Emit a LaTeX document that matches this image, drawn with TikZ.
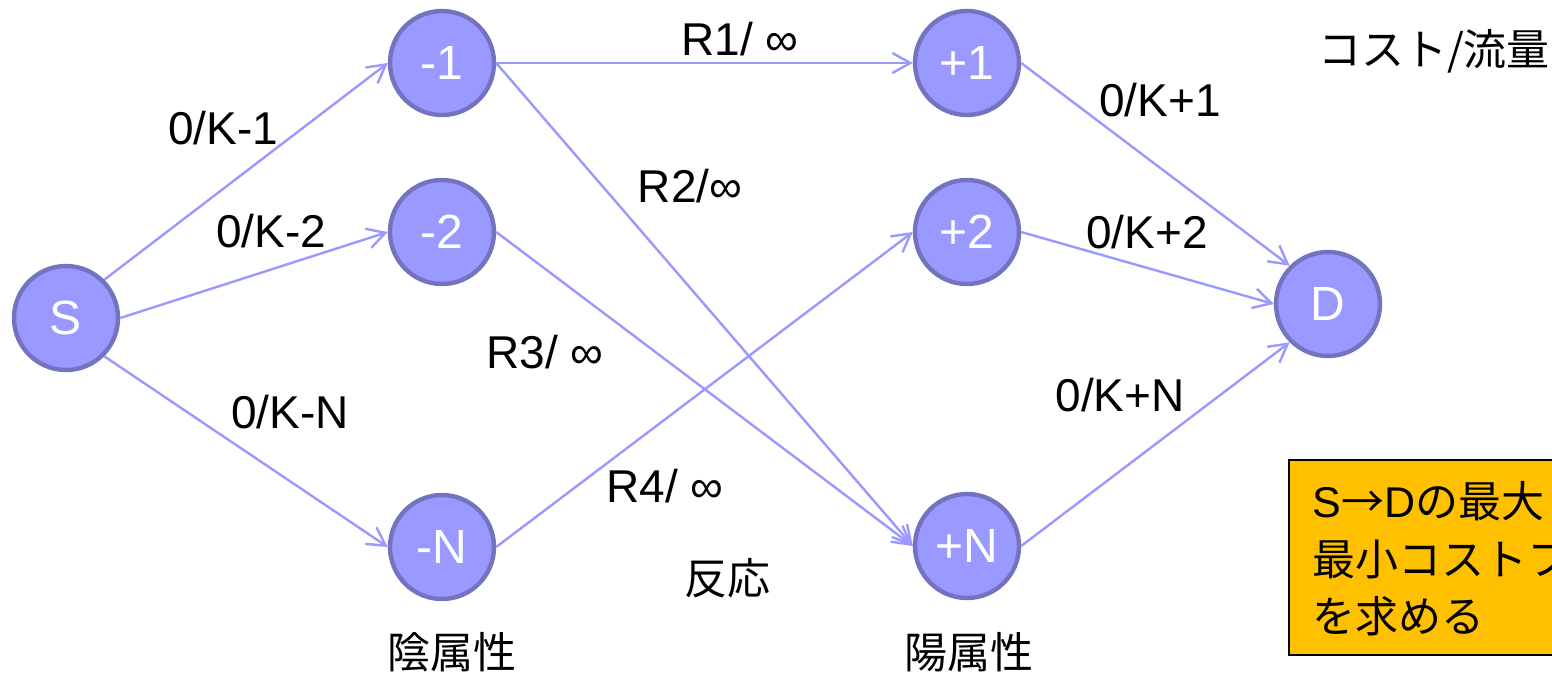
\documentclass[tikz,border=0pt]{standalone}
\usepackage{fontspec}
\setmainfont{Liberation Sans}
\newfontfamily\jp{Noto Sans CJK JP}
\usetikzlibrary{arrows.meta}
\definecolor{nodefill}{HTML}{9999FF}
\definecolor{nodeline}{HTML}{7373BF}
\definecolor{boxfill}{HTML}{FFC000}

\begin{document}
\begin{tikzpicture}[x=0.5pt,y=-0.5pt]

                \tikzset{vertex/.style = {shape=circle,draw=nodeline,fill=nodefill,line width=2.2pt,minimum size=52pt,inner sep=0pt,text=white,font=\fontsize{24}{28}\selectfont}}
                \tikzset{edge/.style = {-{Straight Barb[length=9pt,width=10pt]},draw=nodefill,line width=1.2pt}}
                \tikzset{lbl/.style = {inner sep=0pt,font=\fontsize{23}{28}\selectfont}}
                \tikzset{jlbl/.style = {inner sep=0pt,font=\fontsize{21.5}{27}\selectfont\jp}}
                \clip (0,0) rectangle (1552,675);
                % vertices
                \node[vertex] (S) at (66, 318) {S};
                \node[vertex] (m1) at (442, 63) {-1};
                \node[vertex] (m2) at (442, 232) {-2};
                \node[vertex] (mN) at (442, 547) {-N};
                \node[vertex] (p1) at (967, 63) {+1};
                \node[vertex] (p2) at (967, 232) {+2};
                \node[vertex] (pN) at (967, 546) {+N};
                \node[vertex] (D) at (1328, 304) {D};
                % edges
                \draw[edge] (S.north east) -- (m1.west);
                \draw[edge] (S.east) -- (m2.west);
                \draw[edge] (S.south east) -- (mN.west);
                \draw[edge] (m1.east) -- (p1.west);
                \draw[edge] (m1.east) -- (pN.west);
                \draw[edge] (m2.east) -- (pN.west);
                \draw[edge] (mN.east) -- (p2.west);
                \draw[edge] (p1.east) -- (D.north west);
                \draw[edge] (p2.east) -- (D.west);
                \draw[edge] (pN.east) -- (D.south west);
                % labels
                \node[lbl] (lm1) at (223, 128) {0/K-1};
                \node[lbl] (lm2) at (271, 231) {0/K-2};
                \node[lbl] (lmN) at (290, 412) {0/K-N};
                \node[lbl] (r1) at (740, 39) {R1/ ∞};
                \node[lbl] (r2) at (690, 186) {R2/∞};
                \node[lbl] (r3) at (545, 352) {R3/ ∞};
                \node[lbl] (r4) at (665, 486) {R4/ ∞};
                \node[lbl] (lp1) at (1160, 100) {0/K+1};
                \node[lbl] (lp2) at (1147, 232) {0/K+2};
                \node[lbl] (lpN) at (1120, 395) {0/K+N};
                \node[jlbl] (react) at (727, 578) {反応};
                \node[jlbl] (neg) at (452, 652) {陰属性};
                \node[jlbl] (pos) at (969, 652) {陽属性};
                \node[jlbl] (cost) at (1434, 51) {コスト/流量};
                % goal box
                \draw[fill=boxfill,line width=1.2pt] (1289, 460) rectangle (1620, 655);
                \node[jlbl,anchor=base west] (goal1) at (1312, 517) {{\rmfamily S}→{\rmfamily D}の最大};
                \node[jlbl,anchor=base west] (goal2) at (1312, 575) {最小コストフ};
                \node[jlbl,anchor=base west] (goal3) at (1312, 632) {を求める};
            \end{tikzpicture}
\end{document}
